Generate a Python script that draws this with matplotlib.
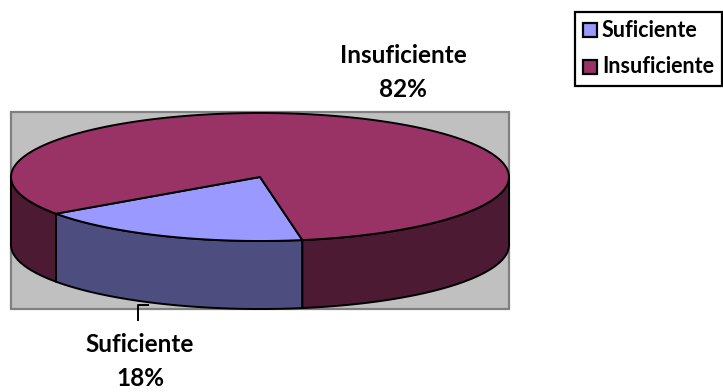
import numpy as np
import matplotlib
matplotlib.use("Agg")
import matplotlib.pyplot as plt
from matplotlib.patches import Polygon, Rectangle

categories = ["Suficiente", "Insuficiente"]
values = [18, 82]
top_colors = ["#9999FF", "#993366"]
side_colors = ["#4D4D80", "#4D1A33"]

W, H = 723, 392
fig = plt.figure(figsize=(W / 100, H / 100), dpi=100)
ax = fig.add_axes([0, 0, 1, 1])
ax.set_xlim(0, W)
ax.set_ylim(H, 0)
ax.axis("off")

FONT = "Lato"
LABEL_SIZE = 17.5
LEGEND_SIZE = 15.5
EDGE_LW = 1.4

# plot area
ax.add_patch(Rectangle((11, 112), 498, 197, facecolor="#C0C0C0",
                       edgecolor="#808080", lw=1.6, zorder=0))

# pie geometry (pixels)
cx, cy = 260, 177
ra, rb = 249, 64
depth = 68
start = -80.2  # math degrees, slices run clockwise

def pt(t, dy=0.0):
    r = np.radians(t)
    return cx + ra * np.cos(r), cy - rb * np.sin(r) + dy

total = sum(values)
spans = []
a0 = start
for v in values:
    sweep = 360.0 * v / total
    spans.append((a0 - sweep, a0))
    a0 -= sweep

# side walls (front half only)
for (lo, hi), sc in zip(spans, side_colors):
    for k in (-1, 0, 1):
        l, h = max(lo + 360 * k, -180), min(hi + 360 * k, 0)
        if h <= l:
            continue
        ts = np.linspace(l, h, 100)
        topp = [pt(t) for t in ts]
        botp = [pt(t, depth) for t in ts[::-1]]
        ax.add_patch(Polygon(topp + botp, closed=True, facecolor=sc,
                             edgecolor="black", lw=EDGE_LW, joinstyle="round", zorder=2))

# top faces
for (lo, hi), tc in zip(spans, top_colors):
    ts = np.linspace(lo, hi, 300)
    pts = [(cx, cy)] + [pt(t) for t in ts]
    ax.add_patch(Polygon(pts, closed=True, facecolor=tc, edgecolor="black",
                         lw=EDGE_LW, joinstyle="round", zorder=3))

# data labels
pct = [f"{round(100 * v / total)}%" for v in values]
ax.text(140, 345, categories[0], ha="center", va="center", fontsize=LABEL_SIZE,
        fontweight="bold", family=FONT)
ax.text(140, 378, pct[0], ha="center", va="center", fontsize=LABEL_SIZE,
        fontweight="bold", family=FONT)
ax.text(403, 55, categories[1], ha="center", va="center", fontsize=LABEL_SIZE,
        fontweight="bold", family=FONT)
ax.text(403, 89, pct[1], ha="center", va="center", fontsize=LABEL_SIZE,
        fontweight="bold", family=FONT)
ax.plot([138, 138, 148], [320, 305, 305], color="black", lw=EDGE_LW, zorder=4)

# legend
ax.add_patch(Rectangle((575, 12), 147, 74, facecolor="white",
                       edgecolor="black", lw=1.6, zorder=5))
for i, (cat, tc) in enumerate(zip(categories, top_colors)):
    y = 30 + i * 36.5
    ax.add_patch(Rectangle((583, y - 7), 14, 14, facecolor=tc,
                           edgecolor="black", lw=1.6, zorder=6))
    ax.text(602, y, cat, ha="left", va="center", fontsize=LEGEND_SIZE,
            fontweight="bold", family=FONT, zorder=6)

fig.savefig("out.png", dpi=100)
